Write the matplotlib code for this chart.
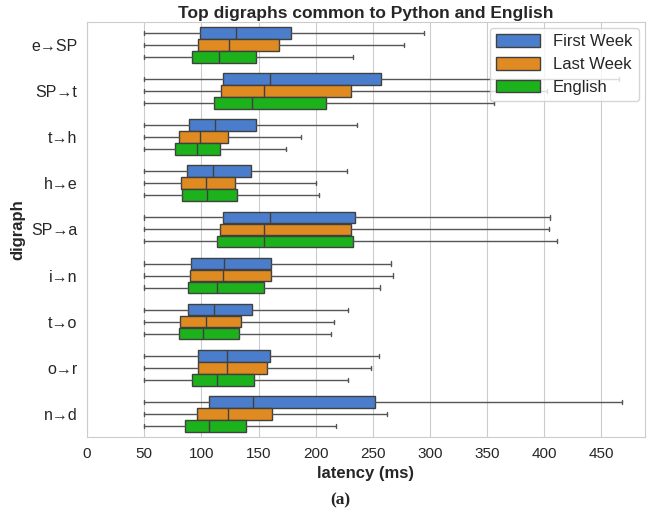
import matplotlib
matplotlib.use("Agg")
import matplotlib.pyplot as plt
import seaborn as sns
from matplotlib.patches import Patch

# digraphs, top to bottom
digraphs = ["e→SP", "SP→t", "t→h", "h→e", "SP→a", "i→n", "t→o", "o→r", "n→d"]
groups = ["First Week", "Last Week", "English"]
colors = ["#4A7DCB", "#E08A22", "#1CB21C"]

# box stats (ms): lower whisker, Q1, median, Q3, upper whisker
first_week = [
    (50, 99, 130, 178, 295),
    (50, 119, 160, 257, 465),
    (50, 89, 112, 148, 236),
    (50, 87, 110, 143, 227),
    (50, 119, 160, 234, 405),
    (50, 91, 120, 161, 266),
    (50, 88, 111, 144, 228),
    (50, 97, 122, 160, 255),
    (50, 107, 145, 252, 468),
]
last_week = [
    (50, 97, 124, 168, 277),
    (50, 117, 155, 231, 402),
    (50, 80, 99, 123, 187),
    (50, 82, 104, 129, 200),
    (50, 116, 155, 231, 404),
    (50, 90, 119, 161, 268),
    (50, 81, 104, 135, 216),
    (50, 97, 122, 157, 248),
    (50, 96, 123, 162, 262),
]
english = [
    (50, 92, 115, 148, 233),
    (50, 111, 144, 209, 356),
    (50, 77, 96, 116, 174),
    (50, 83, 105, 131, 203),
    (50, 114, 155, 233, 411),
    (50, 88, 114, 155, 256),
    (50, 80, 101, 133, 213),
    (50, 92, 114, 146, 228),
    (50, 86, 107, 139, 218),
]
series = [first_week, last_week, english]

sns.set_style("whitegrid")
plt.rcParams["font.family"] = ["Liberation Sans", "Noto Sans", "DejaVu Sans"]

fig = plt.figure(figsize=(6.6, 5.19), dpi=100)
ax = fig.add_axes([0.132, 0.158, 0.845, 0.8])

box_w = 0.26
offsets = [-box_w, 0, box_w]
edge = "#404040"
for data, color, off in zip(series, colors, offsets):
    stats = []
    for lo, q1, med, q3, hi in data:
        stats.append(dict(whislo=lo, q1=q1, med=med, q3=q3, whishi=hi, fliers=[]))
    pos = [i + off for i in range(len(digraphs))]
    ax.bxp(stats, positions=pos, widths=box_w * 0.97, vert=False,
           patch_artist=True, showfliers=False, manage_ticks=False,
           boxprops=dict(facecolor=color, edgecolor=edge, linewidth=1.0),
           medianprops=dict(color=edge, linewidth=1.0),
           whiskerprops=dict(color="#555555", linewidth=1.0),
           capprops=dict(color="#555555", linewidth=1.0),
           capwidths=box_w * 0.35)

ax.set_yticks(range(len(digraphs)))
ax.set_yticklabels(digraphs, fontsize=11.5)
ax.set_ylim(len(digraphs) - 0.5, -0.5)
ax.set_xlim(0, 488)
ax.set_xticks(range(0, 451, 50))
ax.tick_params(axis="x", labelsize=11)
ax.yaxis.grid(False)
ax.set_axisbelow(True)

ax.set_xlabel("latency (ms)", fontsize=12, fontweight="bold")
ax.set_ylabel("digraph", fontsize=12, fontweight="bold")
ax.set_title("Top digraphs common to Python and English", fontsize=12.5,
             fontweight="bold", pad=3)

handles = [Patch(facecolor=c, edgecolor=edge, label=g) for g, c in zip(groups, colors)]
ax.legend(handles=handles, loc="upper right", fontsize=12, frameon=True,
          handlelength=2.6, handleheight=0.8, labelspacing=0.45,
          borderaxespad=0.35)

fig.text(0.515, 0.035, "(a)", ha="center", va="center", fontsize=12.5,
         fontweight="bold", family="Liberation Serif")

fig.savefig("out.png", dpi=100)
